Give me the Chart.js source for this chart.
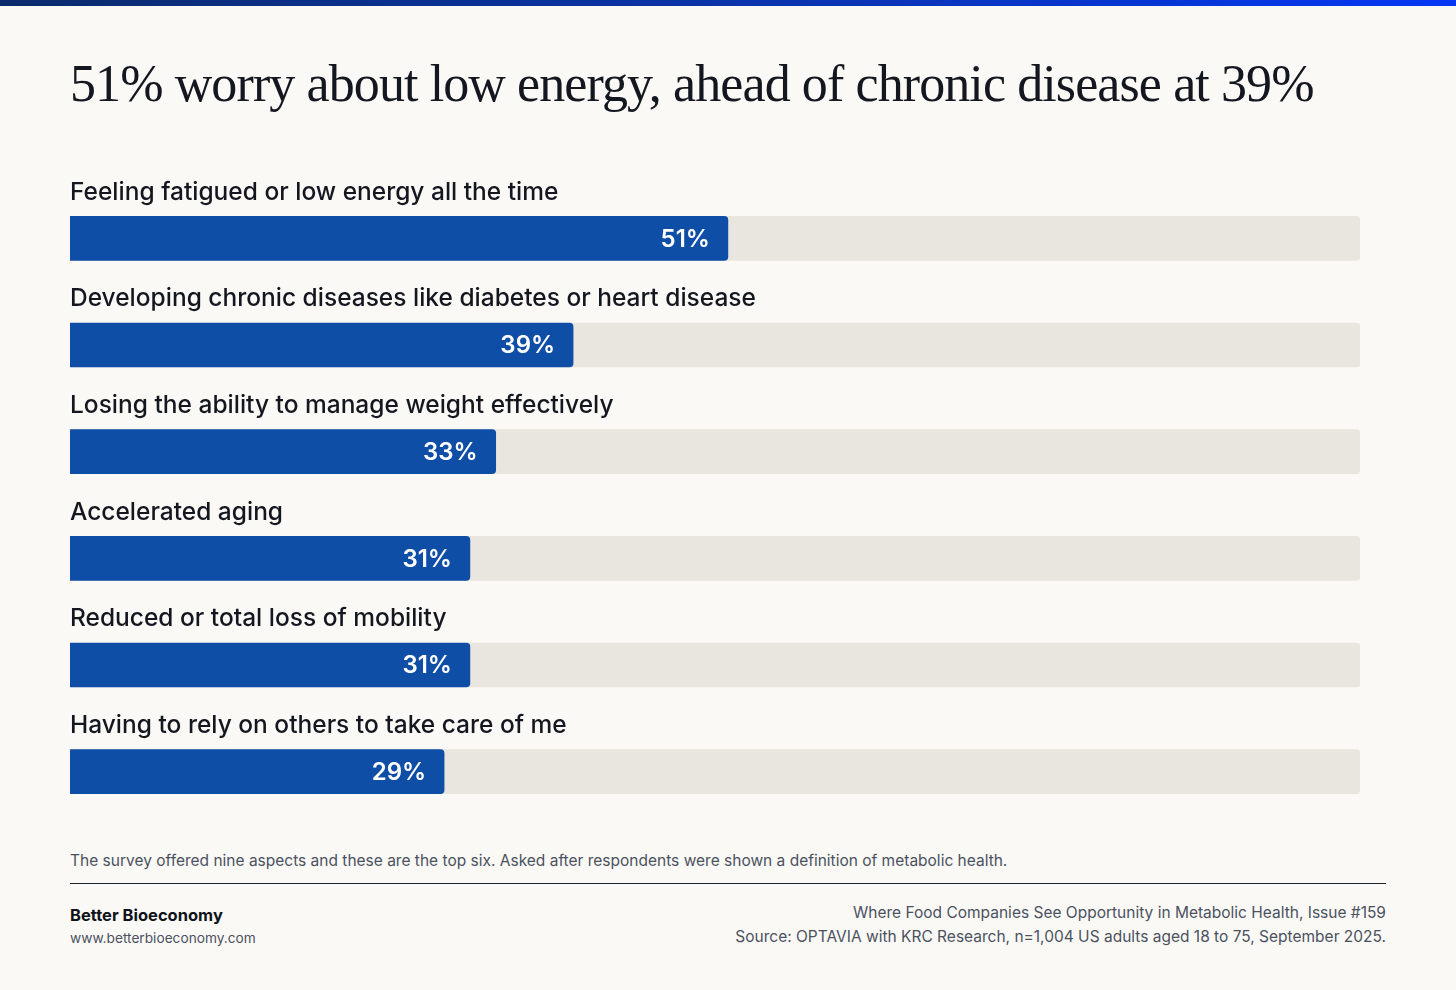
<!DOCTYPE html>
<html>
<head>
<meta charset="utf-8">
<script src="https://cdn.jsdelivr.net/npm/chart.js@4/dist/chart.umd.min.js"></script>
<style>
  html, body { margin: 0; padding: 0; background: #faf9f6; }
  body { width: 1456px; height: 990px; position: relative; overflow: hidden; font-family: Inter, "Noto Sans", sans-serif; }
  .topbar { position: absolute; left: 0; top: 0; width: 1456px; height: 6px; background: linear-gradient(90deg, #0b2b6c 0%, #0a35b8 60%, #0437f5 100%); }
  h1 { position: absolute; left: 70px; top: 52px; margin: 0; font-family: "Liberation Serif", "DejaVu Serif", serif; font-weight: 400; font-size: 52px; line-height: 64px; color: #14171f; white-space: nowrap; letter-spacing: -0.9px; }
  .chart-wrap { position: absolute; left: 0; top: 150px; width: 1456px; height: 700px; }
  .note { position: absolute; left: 70px; top: 851px; font-size: 15.5px; color: #4b5160; white-space: nowrap; }
  .rule { position: absolute; left: 70px; top: 883px; width: 1316px; height: 0; border-top: 1.6px solid #1c2230; }
  .brand { position: absolute; left: 70px; top: 905px; font-size: 16.5px; font-weight: 700; color: #0f1218; }
  .url { position: absolute; left: 70px; top: 930px; font-size: 13.7px; color: #4b5160; }
  .src { position: absolute; right: 70px; top: 901px; text-align: right; font-size: 15.5px; line-height: 23.5px; color: #4b5160; white-space: nowrap; }
</style>
</head>
<body>
<div class="topbar"></div>
<h1>51% worry about low energy, ahead of chronic disease at 39%</h1>
<div class="chart-wrap"><canvas id="chart"></canvas></div>
<div class="note">The survey offered nine aspects and these are the top six. Asked after respondents were shown a definition of metabolic health.</div>
<div class="rule"></div>
<div class="brand">Better Bioeconomy</div>
<div class="url">www.betterbioeconomy.com</div>
<div class="src">Where Food Companies See Opportunity in Metabolic Health, Issue #159<br>Source: OPTAVIA with KRC Research, n=1,004 US adults aged 18 to 75, September 2025.</div>

<script>
// worry categories, top six of nine
const categories = [
    'Feeling fatigued or low energy all the time',
    'Developing chronic diseases like diabetes or heart disease',
    'Losing the ability to manage weight effectively',
    'Accelerated aging',
    'Reduced or total loss of mobility',
    'Having to rely on others to take care of me'
];
const shares = [51, 39, 33, 31, 31, 29];
const trackValues = [100, 100, 100, 100, 100, 100];

const BLUE = '#0f4ea6';
const TRACK = '#e9e5df';

// category label above each bar, value label at the end of the blue bar
const rowLabels = {
    id: 'rowLabels',
    afterDatasetsDraw(chart) {
        const ctx = chart.ctx;
        const meta = chart.getDatasetMeta(0);
        const x0 = chart.scales.x.getPixelForValue(0);
        ctx.save();
        meta.data.forEach((bar, i) => {
            const y = bar.y;
            ctx.fillStyle = '#14171f';
            ctx.font = '500 24.5px Inter, "Noto Sans", sans-serif';
            ctx.textAlign = 'left';
            ctx.textBaseline = 'middle';
            ctx.fillText(categories[i], x0, y - 46);

            ctx.fillStyle = '#ffffff';
            ctx.font = '600 24px Inter, "Noto Sans", sans-serif';
            ctx.textAlign = 'right';
            ctx.fillText(shares[i] + '%', bar.x - 18, y + 1);
        });
        ctx.restore();
    }
};

new Chart(document.getElementById('chart'), {
    type: 'bar',
    data: {
        labels: categories,
        datasets: [
            {
                data: shares,
                backgroundColor: BLUE,
                borderRadius: { topLeft: 0, bottomLeft: 0, topRight: 4, bottomRight: 4 },
                borderSkipped: false,
                barThickness: 44,
                grouped: false,
                order: 0
            },
            {
                data: trackValues,
                backgroundColor: TRACK,
                borderRadius: 4,
                borderSkipped: false,
                barThickness: 44,
                grouped: false,
                order: 1
            }
        ]
    },
    options: {
        indexAxis: 'y',
        responsive: true,
        maintainAspectRatio: false,
        animation: false,
        layout: { padding: { left: 70, right: 96, top: 35, bottom: 25 } },
        scales: {
            x: { min: 0, max: 100, display: false },
            y: { display: false, offset: true }
        },
        plugins: {
            legend: { display: false },
            tooltip: { enabled: false }
        }
    },
    plugins: [rowLabels]
});
</script>
</body>
</html>
